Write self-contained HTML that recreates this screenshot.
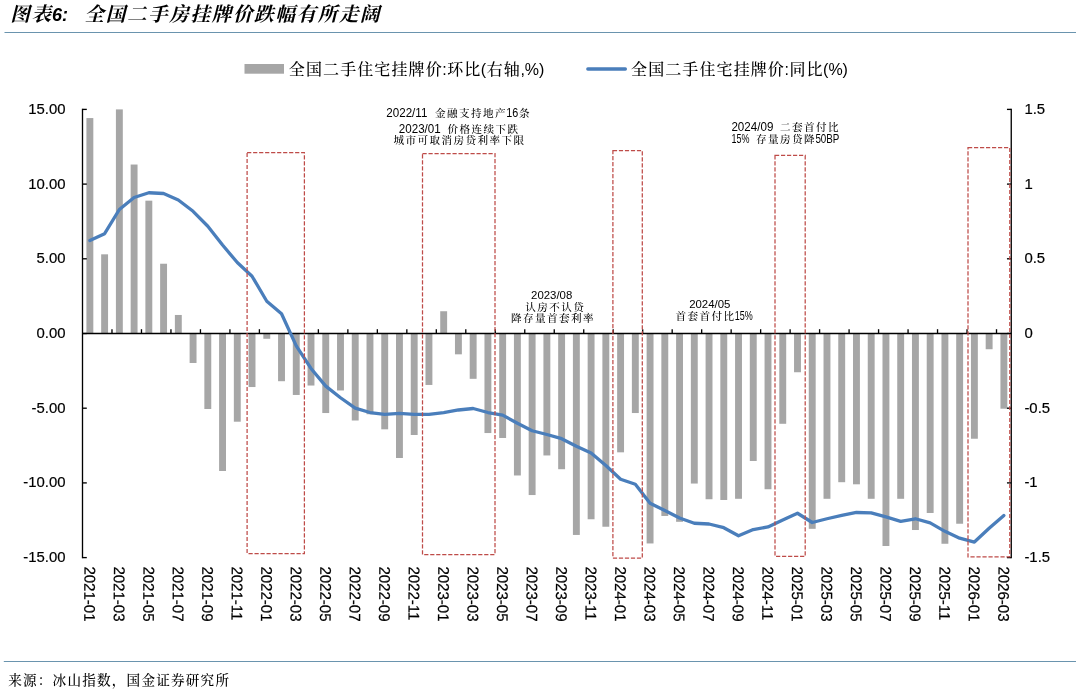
<!DOCTYPE html>
<html lang="zh-CN"><head><meta charset="utf-8"><title>图表6: 全国二手房挂牌价跌幅有所走阔</title>
<style>html,body{margin:0;padding:0;background:#fff}body{width:1080px;height:696px;position:relative;overflow:hidden}svg{position:absolute;left:0;top:0;display:block;will-change:transform}</style></head>
<body>
<svg width="1080" height="696" viewBox="0 0 1080 696">
<line x1="4.5" y1="32.5" x2="1076" y2="32.5" stroke="#6a94ae" stroke-width="1.2"/>
<line x1="3.8" y1="661.5" x2="1076" y2="661.5" stroke="#6a94ae" stroke-width="1.2"/>
<g fill="#a6a6a6">
<rect x="86.42" y="118.07" width="6.9" height="215.43"/>
<rect x="101.16" y="254.32" width="6.9" height="79.18"/>
<rect x="115.91" y="109.40" width="6.9" height="224.10"/>
<rect x="130.65" y="164.53" width="6.9" height="168.97"/>
<rect x="145.39" y="200.68" width="6.9" height="132.82"/>
<rect x="160.13" y="263.73" width="6.9" height="69.77"/>
<rect x="174.87" y="314.97" width="6.9" height="18.53"/>
<rect x="189.62" y="333.50" width="6.9" height="29.48"/>
<rect x="204.36" y="333.50" width="6.9" height="75.50"/>
<rect x="219.10" y="333.50" width="6.9" height="137.50"/>
<rect x="233.84" y="333.50" width="6.9" height="88.20"/>
<rect x="248.58" y="333.50" width="6.9" height="53.54"/>
<rect x="263.33" y="333.50" width="6.9" height="5.28"/>
<rect x="278.07" y="333.50" width="6.9" height="47.71"/>
<rect x="292.81" y="333.50" width="6.9" height="61.46"/>
<rect x="307.55" y="333.50" width="6.9" height="52.04"/>
<rect x="322.29" y="333.50" width="6.9" height="79.53"/>
<rect x="337.04" y="333.50" width="6.9" height="56.97"/>
<rect x="351.78" y="333.50" width="6.9" height="87.00"/>
<rect x="366.52" y="333.50" width="6.9" height="80.73"/>
<rect x="381.26" y="333.50" width="6.9" height="95.82"/>
<rect x="396.00" y="333.50" width="6.9" height="124.50"/>
<rect x="410.75" y="333.50" width="6.9" height="101.49"/>
<rect x="425.49" y="333.50" width="6.9" height="51.45"/>
<rect x="440.23" y="311.24" width="6.9" height="22.26"/>
<rect x="454.97" y="333.50" width="6.9" height="20.82"/>
<rect x="469.71" y="333.50" width="6.9" height="45.32"/>
<rect x="484.46" y="333.50" width="6.9" height="99.55"/>
<rect x="499.20" y="333.50" width="6.9" height="104.48"/>
<rect x="513.94" y="333.50" width="6.9" height="141.98"/>
<rect x="528.68" y="333.50" width="6.9" height="161.55"/>
<rect x="543.42" y="333.50" width="6.9" height="121.96"/>
<rect x="558.17" y="333.50" width="6.9" height="135.71"/>
<rect x="572.91" y="333.50" width="6.9" height="201.44"/>
<rect x="587.65" y="333.50" width="6.9" height="185.76"/>
<rect x="602.39" y="333.50" width="6.9" height="193.23"/>
<rect x="617.14" y="333.50" width="6.9" height="118.82"/>
<rect x="631.88" y="333.50" width="6.9" height="79.53"/>
<rect x="646.62" y="333.50" width="6.9" height="209.96"/>
<rect x="661.36" y="333.50" width="6.9" height="182.47"/>
<rect x="676.10" y="333.50" width="6.9" height="188.30"/>
<rect x="690.85" y="333.50" width="6.9" height="150.05"/>
<rect x="705.59" y="333.50" width="6.9" height="165.74"/>
<rect x="720.33" y="333.50" width="6.9" height="166.48"/>
<rect x="735.07" y="333.50" width="6.9" height="165.29"/>
<rect x="749.81" y="333.50" width="6.9" height="127.49"/>
<rect x="764.56" y="333.50" width="6.9" height="155.73"/>
<rect x="779.30" y="333.50" width="6.9" height="90.29"/>
<rect x="794.04" y="333.50" width="6.9" height="38.75"/>
<rect x="808.78" y="333.50" width="6.9" height="195.32"/>
<rect x="823.52" y="333.50" width="6.9" height="165.29"/>
<rect x="838.27" y="333.50" width="6.9" height="148.70"/>
<rect x="853.01" y="333.50" width="6.9" height="150.80"/>
<rect x="867.75" y="333.50" width="6.9" height="165.29"/>
<rect x="882.49" y="333.50" width="6.9" height="212.50"/>
<rect x="897.23" y="333.50" width="6.9" height="165.29"/>
<rect x="911.98" y="333.50" width="6.9" height="196.51"/>
<rect x="926.72" y="333.50" width="6.9" height="179.48"/>
<rect x="941.46" y="333.50" width="6.9" height="210.26"/>
<rect x="956.20" y="333.50" width="6.9" height="190.24"/>
<rect x="970.94" y="333.50" width="6.9" height="105.23"/>
<rect x="985.69" y="333.50" width="6.9" height="15.74"/>
<rect x="1000.43" y="333.50" width="6.9" height="75.20"/>
</g>
<g stroke="#000" stroke-width="1.33" fill="none">
<line x1="82.5" y1="108.73" x2="82.5" y2="558.27"/>
<line x1="1011.25" y1="108.73" x2="1011.25" y2="558.27"/>
<line x1="82.5" y1="333.5" x2="1011.25" y2="333.5"/>
<line x1="82.5" y1="109.40" x2="86.8" y2="109.40"/>
<line x1="1011.25" y1="109.40" x2="1006.95" y2="109.40"/>
<line x1="82.5" y1="184.10" x2="86.8" y2="184.10"/>
<line x1="1011.25" y1="184.10" x2="1006.95" y2="184.10"/>
<line x1="82.5" y1="258.80" x2="86.8" y2="258.80"/>
<line x1="1011.25" y1="258.80" x2="1006.95" y2="258.80"/>
<line x1="82.5" y1="333.50" x2="86.8" y2="333.50"/>
<line x1="1011.25" y1="333.50" x2="1006.95" y2="333.50"/>
<line x1="82.5" y1="408.20" x2="86.8" y2="408.20"/>
<line x1="1011.25" y1="408.20" x2="1006.95" y2="408.20"/>
<line x1="82.5" y1="482.90" x2="86.8" y2="482.90"/>
<line x1="1011.25" y1="482.90" x2="1006.95" y2="482.90"/>
<line x1="82.5" y1="557.60" x2="86.8" y2="557.60"/>
<line x1="1011.25" y1="557.60" x2="1006.95" y2="557.60"/>
<line x1="111.98" y1="333.5" x2="111.98" y2="329.2"/>
<line x1="141.47" y1="333.5" x2="141.47" y2="329.2"/>
<line x1="170.95" y1="333.5" x2="170.95" y2="329.2"/>
<line x1="200.44" y1="333.5" x2="200.44" y2="329.2"/>
<line x1="229.92" y1="333.5" x2="229.92" y2="329.2"/>
<line x1="259.40" y1="333.5" x2="259.40" y2="329.2"/>
<line x1="288.89" y1="333.5" x2="288.89" y2="329.2"/>
<line x1="318.37" y1="333.5" x2="318.37" y2="329.2"/>
<line x1="347.86" y1="333.5" x2="347.86" y2="329.2"/>
<line x1="377.34" y1="333.5" x2="377.34" y2="329.2"/>
<line x1="406.83" y1="333.5" x2="406.83" y2="329.2"/>
<line x1="436.31" y1="333.5" x2="436.31" y2="329.2"/>
<line x1="465.79" y1="333.5" x2="465.79" y2="329.2"/>
<line x1="495.28" y1="333.5" x2="495.28" y2="329.2"/>
<line x1="524.76" y1="333.5" x2="524.76" y2="329.2"/>
<line x1="554.25" y1="333.5" x2="554.25" y2="329.2"/>
<line x1="583.73" y1="333.5" x2="583.73" y2="329.2"/>
<line x1="613.21" y1="333.5" x2="613.21" y2="329.2"/>
<line x1="642.70" y1="333.5" x2="642.70" y2="329.2"/>
<line x1="672.18" y1="333.5" x2="672.18" y2="329.2"/>
<line x1="701.67" y1="333.5" x2="701.67" y2="329.2"/>
<line x1="731.15" y1="333.5" x2="731.15" y2="329.2"/>
<line x1="760.63" y1="333.5" x2="760.63" y2="329.2"/>
<line x1="790.12" y1="333.5" x2="790.12" y2="329.2"/>
<line x1="819.60" y1="333.5" x2="819.60" y2="329.2"/>
<line x1="849.09" y1="333.5" x2="849.09" y2="329.2"/>
<line x1="878.57" y1="333.5" x2="878.57" y2="329.2"/>
<line x1="908.06" y1="333.5" x2="908.06" y2="329.2"/>
<line x1="937.54" y1="333.5" x2="937.54" y2="329.2"/>
<line x1="967.02" y1="333.5" x2="967.02" y2="329.2"/>
<line x1="996.51" y1="333.5" x2="996.51" y2="329.2"/>
</g>
<polyline points="89.87,240.57 104.61,233.70 119.36,209.50 134.10,197.55 148.84,192.77 163.58,193.51 178.32,199.94 193.07,211.29 207.81,226.23 222.55,245.06 237.29,262.53 252.03,276.28 266.78,301.23 281.52,313.78 296.26,345.90 311.00,368.46 325.74,386.09 340.49,397.74 355.23,408.05 369.97,412.53 384.71,414.47 399.45,413.43 414.20,414.47 428.94,414.47 443.68,412.53 458.42,409.99 473.16,408.50 487.91,412.53 502.65,415.07 517.39,423.29 532.13,430.76 546.88,434.49 561.62,438.68 576.36,446.30 591.10,453.02 605.84,465.57 620.59,479.31 635.33,484.24 650.07,503.22 664.81,510.54 679.55,518.01 694.30,523.24 709.04,523.99 723.78,527.72 738.52,535.79 753.26,529.51 768.01,526.97 782.75,519.95 797.49,513.23 812.23,522.49 826.97,518.76 841.72,515.47 856.46,512.48 871.20,512.93 885.94,516.96 900.68,521.30 915.43,518.76 930.17,522.94 944.91,531.31 959.65,538.18 974.39,542.06 989.14,528.32 1003.88,515.47" fill="none" stroke="#4a7ebb" stroke-width="3.3" stroke-linejoin="round" stroke-linecap="round"/>
<rect x="247.1" y="152.5" width="57.30" height="401.00" fill="none" stroke="#be4b48" stroke-width="1.25" stroke-dasharray="4.2 1.8"/>
<rect x="422.5" y="153.6" width="72.50" height="400.90" fill="none" stroke="#be4b48" stroke-width="1.25" stroke-dasharray="4.2 1.8"/>
<rect x="612.9" y="150.6" width="29.40" height="407.40" fill="none" stroke="#be4b48" stroke-width="1.25" stroke-dasharray="4.2 1.8"/>
<rect x="775" y="155.4" width="30.20" height="400.85" fill="none" stroke="#be4b48" stroke-width="1.25" stroke-dasharray="4.2 1.8"/>
<rect x="968" y="147.7" width="41.80" height="409.05" fill="none" stroke="#be4b48" stroke-width="1.25" stroke-dasharray="4.2 1.8"/>
<g font-family='"Liberation Sans", "Noto Sans CJK SC", sans-serif' font-size="15.3" fill="#000" stroke="#000" stroke-width="0.2">
<text transform="translate(65.5,113.80) scale(0.975,1)" text-anchor="end">15.00</text>
<text transform="translate(65.5,188.50) scale(0.975,1)" text-anchor="end">10.00</text>
<text transform="translate(65.5,263.20) scale(0.975,1)" text-anchor="end">5.00</text>
<text transform="translate(65.5,337.90) scale(0.975,1)" text-anchor="end">0.00</text>
<text transform="translate(65.5,412.60) scale(0.975,1)" text-anchor="end">-5.00</text>
<text transform="translate(65.5,487.30) scale(0.975,1)" text-anchor="end">-10.00</text>
<text transform="translate(65.5,562.00) scale(0.975,1)" text-anchor="end">-15.00</text>
<text transform="translate(1024.4,113.80) scale(0.975,1)">1.5</text>
<text transform="translate(1024.4,188.50) scale(0.975,1)">1</text>
<text transform="translate(1024.4,263.20) scale(0.975,1)">0.5</text>
<text transform="translate(1024.4,337.90) scale(0.975,1)">0</text>
<text transform="translate(1024.4,412.60) scale(0.975,1)">-0.5</text>
<text transform="translate(1024.4,487.30) scale(0.975,1)">-1</text>
<text transform="translate(1024.4,562.00) scale(0.975,1)">-1.5</text>
</g>
<g font-family='"Liberation Sans", "Noto Sans CJK SC", sans-serif' font-size="15.5" fill="#000" stroke="#000" stroke-width="0.2">
<text transform="translate(84.42,566.4) rotate(90.3) scale(0.97,1)">2021-01</text>
<text transform="translate(113.91,566.4) rotate(90.3) scale(0.97,1)">2021-03</text>
<text transform="translate(143.39,566.4) rotate(90.3) scale(0.97,1)">2021-05</text>
<text transform="translate(172.87,566.4) rotate(90.3) scale(0.97,1)">2021-07</text>
<text transform="translate(202.36,566.4) rotate(90.3) scale(0.97,1)">2021-09</text>
<text transform="translate(231.84,566.4) rotate(90.3) scale(0.97,1)">2021-11</text>
<text transform="translate(261.33,566.4) rotate(90.3) scale(0.97,1)">2022-01</text>
<text transform="translate(290.81,566.4) rotate(90.3) scale(0.97,1)">2022-03</text>
<text transform="translate(320.29,566.4) rotate(90.3) scale(0.97,1)">2022-05</text>
<text transform="translate(349.78,566.4) rotate(90.3) scale(0.97,1)">2022-07</text>
<text transform="translate(379.26,566.4) rotate(90.3) scale(0.97,1)">2022-09</text>
<text transform="translate(408.75,566.4) rotate(90.3) scale(0.97,1)">2022-11</text>
<text transform="translate(438.23,566.4) rotate(90.3) scale(0.97,1)">2023-01</text>
<text transform="translate(467.71,566.4) rotate(90.3) scale(0.97,1)">2023-03</text>
<text transform="translate(497.20,566.4) rotate(90.3) scale(0.97,1)">2023-05</text>
<text transform="translate(526.68,566.4) rotate(90.3) scale(0.97,1)">2023-07</text>
<text transform="translate(556.17,566.4) rotate(90.3) scale(0.97,1)">2023-09</text>
<text transform="translate(585.65,566.4) rotate(90.3) scale(0.97,1)">2023-11</text>
<text transform="translate(615.14,566.4) rotate(90.3) scale(0.97,1)">2024-01</text>
<text transform="translate(644.62,566.4) rotate(90.3) scale(0.97,1)">2024-03</text>
<text transform="translate(674.10,566.4) rotate(90.3) scale(0.97,1)">2024-05</text>
<text transform="translate(703.59,566.4) rotate(90.3) scale(0.97,1)">2024-07</text>
<text transform="translate(733.07,566.4) rotate(90.3) scale(0.97,1)">2024-09</text>
<text transform="translate(762.56,566.4) rotate(90.3) scale(0.97,1)">2024-11</text>
<text transform="translate(792.04,566.4) rotate(90.3) scale(0.97,1)">2025-01</text>
<text transform="translate(821.52,566.4) rotate(90.3) scale(0.97,1)">2025-03</text>
<text transform="translate(851.01,566.4) rotate(90.3) scale(0.97,1)">2025-05</text>
<text transform="translate(880.49,566.4) rotate(90.3) scale(0.97,1)">2025-07</text>
<text transform="translate(909.98,566.4) rotate(90.3) scale(0.97,1)">2025-09</text>
<text transform="translate(939.46,566.4) rotate(90.3) scale(0.97,1)">2025-11</text>
<text transform="translate(968.94,566.4) rotate(90.3) scale(0.97,1)">2026-01</text>
<text transform="translate(998.43,566.4) rotate(90.3) scale(0.97,1)">2026-03</text>
</g>
<rect x="244.5" y="64" width="39.5" height="9.7" fill="#a6a6a6"/>
<line x1="587.8" y1="69" x2="625.4" y2="69" stroke="#4a7ebb" stroke-width="3.3" stroke-linecap="round"/>
<g font-family='"Liberation Sans", "Noto Serif CJK SC", serif' fill="#000">
<text x="288.85 305.95 323.05 340.15 357.25 374.35 391.45 408.55 425.65" y="75" font-size="16" font-weight="500">全国二手住宅挂牌价</text>
<text transform="translate(442.20,75) scale(1.000,1)" font-size="16">:</text>
<text x="447.20 464.30" y="75" font-size="16" font-weight="500">环比</text>
<text transform="translate(480.85,75) scale(1.000,1)" font-size="16">(</text>
<text x="486.73 503.83" y="75" font-size="16" font-weight="500">右轴</text>
<text transform="translate(520.38,75) scale(1.000,1)" font-size="16">,%)</text>
</g>
<g font-family='"Liberation Sans", "Noto Serif CJK SC", serif' fill="#000">
<text x="631.05 648.15 665.25 682.35 699.45 716.55 733.65 750.75 767.85" y="75" font-size="16" font-weight="500">全国二手住宅挂牌价</text>
<text transform="translate(784.40,75) scale(1.000,1)" font-size="16">:</text>
<text x="789.40 806.50" y="75" font-size="16" font-weight="500">同比</text>
<text transform="translate(823.05,75) scale(1.000,1)" font-size="16">(%)</text>
</g>
<g font-family='"Liberation Sans", "Noto Serif CJK SC", serif' fill="#000">
<text transform="translate(386.30,117.2) scale(0.968,1)" font-size="12">2022/11 </text>
<text x="435.00 447.00 459.00 471.00 483.00 495.00" y="117.2" font-size="10.6" font-weight="500">金融支持地产</text>
<text transform="translate(506.30,117.2) scale(0.899,1)" font-size="12">16</text>
<text x="519.00" y="117.2" font-size="10.6" font-weight="500">条</text>
</g>
<g font-family='"Liberation Sans", "Noto Serif CJK SC", serif' fill="#000">
<text transform="translate(398.80,133.3) scale(0.968,1)" font-size="12">2023/01 </text>
<text x="447.50 459.50 471.50 483.50 495.50 507.50" y="133.3" font-size="10.6" font-weight="500">价格连续下跌</text>
</g>
<g font-family='"Liberation Sans", "Noto Serif CJK SC", serif' fill="#000">
<text x="393.50 405.50 417.50 429.50 441.50 453.50 465.50 477.50 489.50 501.50 513.50" y="144.3" font-size="10.6" font-weight="500">城市可取消房贷利率下限</text>
</g>
<text x="551.7" y="298.7" text-anchor="middle" font-family='"Liberation Sans", "Noto Sans CJK SC", sans-serif' font-size="11.4" fill="#000">2023/08</text>
<g font-family='"Liberation Sans", "Noto Serif CJK SC", serif' fill="#000">
<text x="525.20 537.20 549.20 561.20 573.20" y="310.6" font-size="10.6" font-weight="500">认房不认贷</text>
</g>
<g font-family='"Liberation Sans", "Noto Serif CJK SC", serif' fill="#000">
<text x="510.90 522.90 534.90 546.90 558.90 570.90 582.90" y="322" font-size="10.6" font-weight="500">降存量首套利率</text>
</g>
<text x="709.75" y="308" text-anchor="middle" font-family='"Liberation Sans", "Noto Sans CJK SC", sans-serif' font-size="11.4" fill="#000">2024/05</text>
<g font-family='"Liberation Sans", "Noto Serif CJK SC", serif' fill="#000">
<text x="675.50 687.50 699.50 711.50 723.50" y="320.3" font-size="10.6" font-weight="500">首套首付比</text>
<text transform="translate(734.80,320.3) scale(0.750,1)" font-size="12">15%</text>
</g>
<g font-family='"Liberation Sans", "Noto Serif CJK SC", serif' fill="#000">
<text transform="translate(731.40,130.8) scale(0.968,1)" font-size="12">2024/09 </text>
<text x="780.10 792.10 804.10 816.10 828.10" y="130.8" font-size="10.6" font-weight="500">二套首付比</text>
</g>
<g font-family='"Liberation Sans", "Noto Serif CJK SC", serif' fill="#000">
<text transform="translate(731.40,142.7) scale(0.750,1)" font-size="12">15% </text>
<text x="756.10 768.10 780.10 792.10 804.10" y="142.7" font-size="10.6" font-weight="500">存量房贷降</text>
<text transform="translate(815.40,142.7) scale(0.818,1)" font-size="12">50BP</text>
</g>
<g font-family='"Liberation Sans", "Noto Serif CJK SC", serif' fill="#000" font-weight="bold" font-style="italic">
<text x="10.30 31.50" y="21.0" font-size="19.6" font-weight="700">图表</text>
<text transform="translate(51.90,21.0) scale(1.000,1)" font-size="18">6: </text>
<text x="84.50 105.70 126.90 148.10 169.30 190.50 211.70 232.90 254.10 275.30 296.50 317.70 338.90 360.10" y="21.0" font-size="19.6" font-weight="700">全国二手房挂牌价跌幅有所走阔</text>
</g>
<g font-family='"Liberation Sans", "Noto Serif CJK SC", serif' fill="#000">
<text x="8.20 23.00 37.80 52.60 67.40 82.20 97.00 111.80 126.60 141.40 156.20 171.00 185.80 200.60 215.40" y="685.3" font-size="13.6" font-weight="500">来源：冰山指数，国金证券研究所</text>
</g>
</svg>
</body></html>
